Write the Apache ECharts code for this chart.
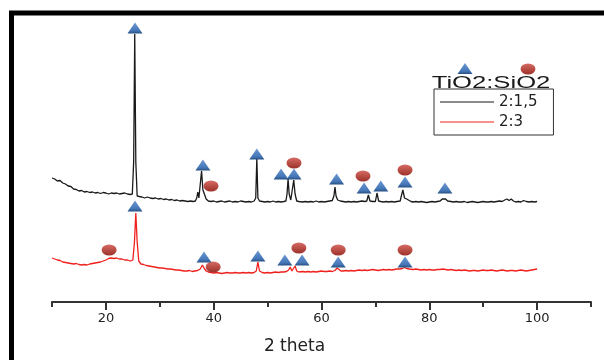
<!DOCTYPE html>
<html>
<head>
<meta charset="utf-8">
<script src="https://cdn.jsdelivr.net/npm/echarts@6.0.0/dist/echarts.min.js"></script>
<style>
  html, body { margin: 0; padding: 0; background: #fff; }
  #main { width: 604px; height: 360px; }
</style>
</head>
<body>
<div id="main"></div>
<script>
// XRD patterns, [2 theta, intensity (a.u., stacked)]
var pattern15 = [
  [10,124],[10.5,123],[11,121],[11.5,121.5],[12,119],[12.5,118],[13,116],[13.5,115.5],[14,113],[14.5,112.5],
  [15,111],[15.5,111.5],[16,110],[16.5,110.5],[17,109.5],[17.5,110],[18,109],[18.5,109.5],[19,108.5],[19.5,109.5],
  [20,109],[20.5,108],[21,109],[21.5,108.5],[22,109],[22.5,108],[23,108.5],[23.5,109],[24,108],[24.5,107.5],
  [24.9,108],[25.15,140],[25.35,268],[25.55,140],[25.8,106],[26.2,105.5],[26.7,105],[27.2,104],[27.7,105],[28.2,104],
  [28.7,103.5],[29.2,104],[29.7,103],[30.2,103.5],[30.7,102.5],[31.2,103],[31.7,102],[32.2,102.5],[32.7,101.5],[33.2,102],
  [33.7,101],[34.2,101.5],[34.7,101],[35.2,100.5],[35.7,101],[36.2,100.5],[36.6,101],[36.85,104],[37.05,110],[37.25,104],
  [37.5,106],[37.75,131],[38.0,112],[38.35,112],[38.6,103],[39,101],[39.5,100.5],[40,101],[40.5,100],[41,100.5],
  [41.5,101],[42,100],[42.5,100.5],[43,101],[43.5,100],[44,100.5],[44.5,100],[45,101],[45.5,100.5],[46,100],
  [46.5,100.5],[47,100],[47.5,101],[47.8,104],[48.0,144],[48.2,104],[48.5,101],[49,100.5],[49.5,100],[50,100.5],
  [50.5,100],[51,101],[51.5,100],[52,100.5],[52.5,100],[53,100.5],[53.4,101],[53.6,108],[53.8,123],[54.0,108],
  [54.3,102],[54.6,103],[54.85,122],[55.1,108],[55.4,101],[55.8,100.5],[56.5,100],[57,100.5],[57.5,100],[58,100.5],
  [58.5,100],[59,101],[59.5,100],[60,100.5],[60.5,100],[61,100.5],[61.5,101],[62,101.5],[62.3,106],[62.5,115],
  [62.7,106],[63,102],[63.5,101],[64,100.5],[64.5,100],[65,100.5],[65.5,100],[66,100.5],[66.5,100],[67,100.5],
  [67.5,101],[68,100.5],[68.4,101],[68.7,107],[69,101],[69.5,100.5],[70,100.5],[70.3,109],[70.6,101],[71,100.5],
  [71.5,100],[72,100.5],[72.5,100],[73,100.5],[73.5,100],[74,100.5],[74.6,101],[74.9,108],[75.1,112],[75.4,104],
  [75.8,103],[76.1,101.5],[76.6,100.5],[77,100],[77.5,100.5],[78,100],[78.5,100.5],[79,100],[79.5,99.5],[80,100],
  [80.5,100.5],[81,100],[81.5,100.5],[82,101],[82.4,103],[82.7,105],[83,103],[83.4,101],[84,100.5],[84.5,100],
  [85,100.5],[85.5,100],[86,100],[86.5,100.5],[87,99.5],[87.5,100],[88,100.5],[88.5,100],[89,99.5],[89.5,100],
  [90,100.5],[90.5,100],[91,100],[91.5,100.5],[92,100],[92.5,100.5],[93,101],[93.5,100.5],[94,102],[94.4,103],
  [94.8,101.5],[95.2,103],[95.6,101],[96,100],[96.5,100.5],[97,100],[97.5,101.5],[98,100.5],[98.5,100],[99,100.5],
  [99.5,100],[100,100.5]
];
var pattern3 = [
  [10,44],[10.5,43],[11,42],[11.5,41.5],[12,40],[12.5,39.5],[13,39],[13.5,38.5],[14,38],[14.5,38.5],
  [15,37.5],[15.5,37],[16,37.5],[16.5,37],[17,38],[17.5,38.5],[18,39],[18.5,39.5],[19,40],[19.5,41],
  [20,42],[20.5,43.5],[21,44],[21.5,43.5],[22,44],[22.5,43],[23,43],[23.5,42],[24,42],[24.5,41],
  [25.0,42],[25.3,60],[25.55,89],[25.8,60],[26.1,41],[26.5,38],[27,37.5],[27.5,36.5],[28,36],[28.5,35.5],
  [29,35],[29.5,34.5],[30,34],[30.5,34],[31,33.5],[31.5,33],[32,33],[32.5,32.5],[33,32],[33.5,32],
  [34,31.5],[34.5,31],[35,31],[35.5,31.5],[36,30.5],[36.5,31],[37,31.5],[37.5,33],[37.9,37],[38.2,34],
  [38.6,31],[39,30],[39.5,29.5],[40,29],[40.5,29.5],[41,29],[41.5,28.5],[42,29],[42.5,29.5],[43,29],
  [43.5,29],[44,29.5],[44.5,29],[45,29],[45.5,29.5],[46,29],[46.5,29.5],[47,29],[47.5,29.5],[47.9,31],
  [48.2,40],[48.5,31],[49,29.5],[49.5,29],[50,29.5],[50.5,29],[51,29.5],[51.5,30],[52,29.5],[52.5,30],
  [53,30],[53.5,30.5],[53.9,32],[54.2,35],[54.5,31],[54.8,32],[55.1,36],[55.4,31],[55.8,30],[56.5,30.5],
  [57,30],[57.5,30.5],[58,30],[58.5,30.5],[59,30],[59.5,30.5],[60,31],[60.5,30.5],[61,30.5],[61.5,31],
  [62,30.5],[62.5,31.5],[62.9,34],[63.2,33],[63.6,31],[64,31],[64.5,31.5],[65,31],[65.5,31.5],[66,31],
  [66.5,31.5],[67,32],[67.5,31.5],[68,32],[68.5,31.5],[69,32],[69.5,32.5],[70,32],[70.5,31.5],[71,32],
  [71.5,32.5],[72,32],[72.5,32.5],[73,32],[73.5,32.5],[74,33],[74.5,33],[75,33.5],[75.4,34.5],[75.8,33.5],
  [76.3,33],[77,32.5],[77.5,33],[78,32.5],[78.5,32],[79,32.5],[79.5,32],[80,32.5],[80.5,32],[81,32],
  [81.5,32.5],[82,32.5],[82.5,33],[83,32.5],[83.5,32],[84,32.5],[84.5,32],[85,31.5],[85.5,32],[86,31.5],
  [86.5,32],[87,31.5],[87.5,31],[88,31.5],[88.5,31.5],[89,31],[89.5,31.5],[90,32],[90.5,31.5],[91,31.5],
  [91.5,32],[92,31.5],[92.5,31],[93,31.5],[93.5,32],[94,31.5],[94.5,31],[95,31.5],[95.5,31.5],[96,31],
  [96.5,31.5],[97,32],[97.5,31.5],[98,31],[98.5,31.5],[99,32],[99.5,32.5],[100,33]
];
// phase markers placed above the peaks
var tio2Marks15 = [[25.4,274],[38.0,137],[48.0,148],[52.5,128],[54.9,128],[62.8,123],[67.9,114],[71.0,116],[75.5,120],[82.9,114]];
var sio2Marks15 = [[39.5,116],[54.9,139],[67.7,126],[75.5,132]];
var tio2Marks3 = [[25.4,96],[38.2,45],[48.2,46],[53.2,42],[56.4,42],[63.1,40],[75.5,40]];
var sio2Marks3 = [[20.6,52],[39.9,35],[55.8,54],[63.1,52],[75.5,52]];
var majorTicks = [20, 40, 60, 80, 100];

var font = "DejaVu Sans";
var triColor = {
  type: "linear", x: 0, y: 0, x2: 0, y2: 1,
  colorStops: [{ offset: 0, color: "#6d98d4" }, { offset: 0.75, color: "#4476b6" }, { offset: 1, color: "#274f82" }]
};
var dotColor = {
  type: "linear", x: 0, y: 0, x2: 0, y2: 1,
  colorStops: [{ offset: 0, color: "#d66c64" }, { offset: 1, color: "#9c302a" }]
};

var chartDom = document.getElementById("main");
var myChart = echarts.init(chartDom);
var option;
option = {
  animation: false,
  backgroundColor: "#fff",
  grid: { left: 52, right: 13, top: 14, bottom: 58 },
  legend: {
    data: ["2:1,5", "2:3"],
    orient: "vertical",
    left: 434,
    top: 89,
    padding: [4, 16, 4, 6],
    icon: "rect",
    itemWidth: 54,
    itemHeight: 1.2,
    itemGap: 2,
    borderColor: "#333",
    borderWidth: 1,
    textStyle: { fontFamily: font, fontSize: 15, color: "#222", lineHeight: 18 }
  },
  xAxis: [
    {
      type: "value",
      min: 10,
      max: 110,
      interval: 10,
      name: "2 theta",
      nameLocation: "middle",
      nameGap: 36,
      nameTextStyle: { fontFamily: font, fontSize: 17, color: "#222", padding: [0, 54, 0, 0] },
      axisLine: { show: true, lineStyle: { color: "#333", width: 2 } },
      axisTick: { show: true, length: 5, lineStyle: { color: "#333", width: 2 } },
      axisLabel: {
        margin: 10,
        fontFamily: font,
        fontSize: 13,
        color: "#222",
        formatter: function (v) {
          return majorTicks.indexOf(v) >= 0 ? String(v) : "";
        }
      },
      splitLine: { show: false }
    },
    {
      type: "value",
      min: 10,
      max: 110,
      position: "bottom",
      axisLine: { show: false },
      axisTick: { show: true, length: 8, customValues: majorTicks, lineStyle: { color: "#333", width: 2 } },
      axisLabel: { show: false },
      splitLine: { show: false }
    }
  ],
  yAxis: { type: "value", min: 0, max: 288, show: false },
  graphic: [
    {
      type: "rect",
      shape: { x: 11.5, y: 13, width: 800, height: 600 },
      style: { fill: "none", stroke: "#000", lineWidth: 5 },
      silent: true
    },
    {
      type: "text",
      x: 491,
      y: 84,
      scaleX: 1.6,
      style: {
        text: "TiO2:SiO2",
        fontFamily: "Liberation Sans",
        fontSize: 16,
        fill: "#1a1a1a",
        align: "center",
        verticalAlign: "middle"
      }
    },
    {
      type: "polygon",
      shape: { points: [[465, 63], [472.5, 74], [457.5, 74]] },
      style: { fill: triColor }
    },
    {
      type: "circle",
      x: 528,
      y: 69,
      scaleX: 1.35,
      shape: { cx: 0, cy: 0, r: 5.5 },
      style: { fill: dotColor }
    }
  ],
  series: [
    {
      name: "2:1,5",
      type: "line",
      data: pattern15,
      symbol: "none",
      z: 2,
      lineStyle: { color: "#1a1a1a", width: 1.3 },
      itemStyle: { color: "#1a1a1a" }
    },
    {
      name: "2:3",
      type: "line",
      data: pattern3,
      symbol: "none",
      z: 2,
      lineStyle: { color: "#f0201c", width: 1.3 },
      itemStyle: { color: "#f0201c" }
    },
    {
      name: "TiO2",
      type: "scatter",
      data: tio2Marks15.concat(tio2Marks3),
      symbol: "triangle",
      symbolSize: [15, 11],
      z: 4,
      itemStyle: { color: triColor, opacity: 1 }
    },
    {
      name: "SiO2",
      type: "scatter",
      data: sio2Marks15.concat(sio2Marks3),
      symbol: "circle",
      symbolSize: [15, 11],
      z: 3,
      itemStyle: { color: dotColor, opacity: 1 }
    }
  ]
};
myChart.setOption(option);
</script>
</body>
</html>
